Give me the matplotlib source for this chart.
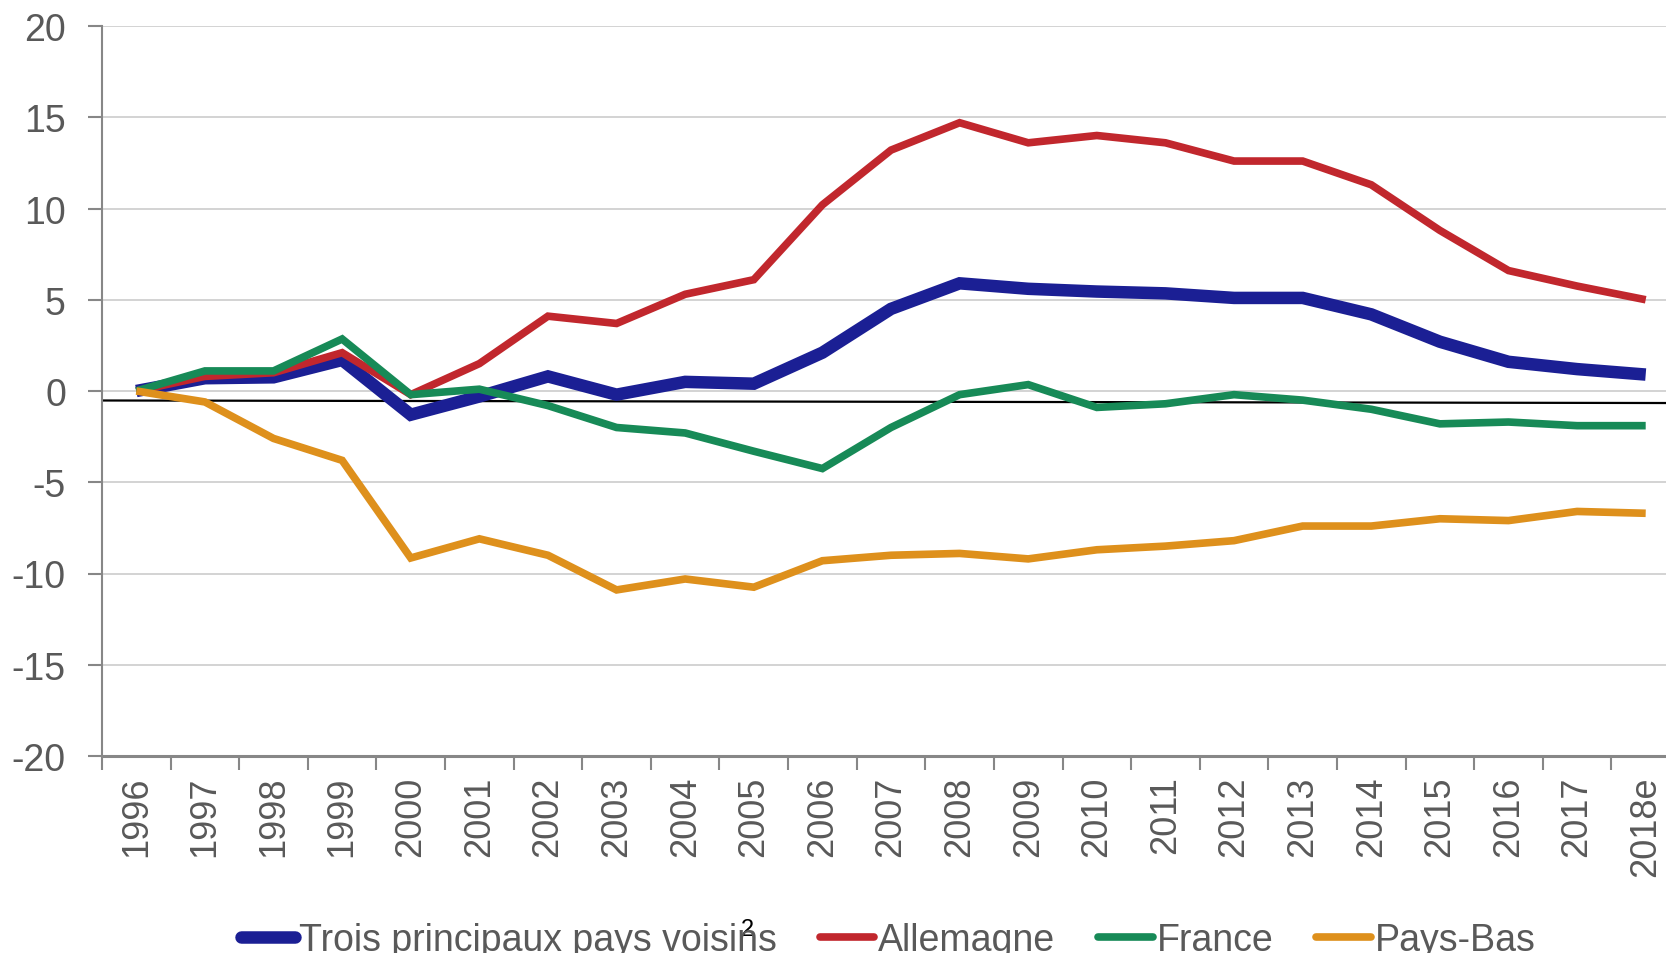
import matplotlib
matplotlib.use("Agg")
import matplotlib.pyplot as plt

plt.rcParams['font.family'] = ['Liberation Sans', 'DejaVu Sans']

years = ["1996", "1997", "1998", "1999", "2000", "2001", "2002", "2003", "2004", "2005",
         "2006", "2007", "2008", "2009", "2010", "2011", "2012", "2013", "2014", "2015",
         "2016", "2017", "2018e"]

trois = [0, 0.7, 0.75, 1.7, -1.3, -0.3, 0.8, -0.2, 0.5, 0.4,
         2.1, 4.5, 5.9, 5.6, 5.45, 5.35, 5.1, 5.1, 4.2, 2.7,
         1.6, 1.2, 0.9]
allemagne = [0, 0.8, 1.0, 2.1, -0.2, 1.5, 4.1, 3.7, 5.3, 6.1,
             10.2, 13.2, 14.7, 13.6, 14.0, 13.6, 12.6, 12.6, 11.3, 8.8,
             6.6, 5.75, 5.0]
france = [0, 1.1, 1.1, 2.85, -0.2, 0.1, -0.8, -2.0, -2.3, -3.3,
          -4.25, -2.0, -0.2, 0.35, -0.9, -0.7, -0.2, -0.5, -1.0, -1.8,
          -1.7, -1.9, -1.9]
paysbas = [0, -0.6, -2.6, -3.8, -9.15, -8.1, -9.0, -10.9, -10.3, -10.75,
           -9.3, -9.0, -8.9, -9.2, -8.7, -8.5, -8.2, -7.4, -7.4, -7.0,
           -7.1, -6.6, -6.7]

ref_line = [-0.52, -0.66]

labels = ["Trois principaux pays voisins", "Allemagne", "France", "Pays-Bas"]
colors = ["#1b1f94", "#c1272d", "#178a57", "#de901c"]

fig = plt.figure(figsize=(16.66, 9.54), dpi=100)
ax = fig.add_axes([102/1666, 1-757/954, (1680-102)/1666, (757-27)/954])

x = list(range(len(years)))
gray = "#595959"
spine = "#878787"

ax.set_ylim(-20, 20)
ax.set_xlim(-0.5, len(years) - 0.5)
ax.set_yticks(range(-20, 21, 5))
ax.set_yticklabels([str(v) for v in range(-20, 21, 5)])
ax.yaxis.grid(True, color="#d0d0d0", lw=1.3)
ax.set_axisbelow(True)

ax.set_xticks(x)
ax.set_xticklabels(years)
ax.set_xticks([i - 0.5 for i in range(len(years) + 1)], minor=True)
ax.tick_params(axis='x', which='major', length=0, pad=14, labelsize=26,
               labelcolor=gray, labelrotation=90)
ax.tick_params(axis='x', which='minor', length=10, width=1.5, color=spine)
ax.tick_params(axis='y', length=10, width=1.5, color=spine, pad=16, labelsize=27, labelcolor=gray)

for s in ['top', 'right']:
    ax.spines[s].set_visible(False)
for s in ['left', 'bottom']:
    ax.spines[s].set_color(spine)
ax.spines['left'].set_linewidth(1.5)
ax.spines['bottom'].set_linewidth(2.2)

ax.plot([-0.5, len(years) - 0.5], ref_line, color="black", lw=1.6, zorder=2)

series = [trois, allemagne, france, paysbas]
widths = [9, 5.5, 5.5, 5.5]
handles = []
for vals, lab, col, w in zip(series, labels, colors, widths):
    h, = ax.plot(x, vals, color=col, lw=w, label=lab, solid_joinstyle='miter',
                 solid_capstyle='butt', zorder=3)
    handles.append(h)

leg = fig.legend(handles=handles, labels=labels, loc='center', ncol=4,
                 bbox_to_anchor=(888/1666, 1-941/954), frameon=False,
                 fontsize=27, handlelength=1.45, handletextpad=0.1,
                 columnspacing=1.15, labelcolor=gray)
for lh in leg.legend_handles:
    lh.set_solid_capstyle('round')

fig.text(747/1666, 1-930/954, "2", fontsize=17, color="black", ha='center', va='center')

fig.savefig("out.png", dpi=100)
